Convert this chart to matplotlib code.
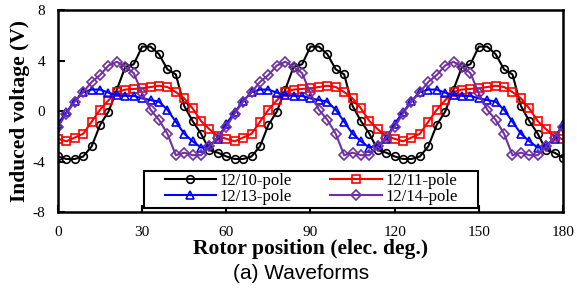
import numpy as np
import matplotlib
matplotlib.use("Agg")
import matplotlib.pyplot as plt
from matplotlib.patches import Rectangle

plt.rcParams['font.family'] = 'Liberation Serif'
plt.rcParams['axes.unicode_minus'] = False

# rotor position, elec. deg.
pos = np.arange(0, 181, 3)

v_10 = [-3.6, -3.8, -3.8, -3.6, -2.8, -1.1, -0.05, 1.7, 3.5, 3.7, 5.1, 5.1, 4.5, 3.3, 2.9, 0.4, -0.8, -1.8, -3.1, -3.3,
        -3.6, -3.8, -3.8, -3.6, -2.8, -1.1, -0.05, 1.7, 3.5, 3.7, 5.1, 5.1, 4.5, 3.3, 2.9, 0.4, -0.8, -1.8, -3.1, -3.3,
        -3.6, -3.8, -3.8, -3.6, -2.8, -1.1, -0.05, 1.7, 3.5, 3.7, 5.1, 5.1, 4.5, 3.3, 2.9, 0.4, -0.8, -1.8, -3.1, -3.3,
        -3.7]
v_11 = [-2.2, -2.4, -2.1, -1.8, -0.85, 0.1, 0.85, 1.5, 1.7, 1.75, 1.8, 1.9, 2.0, 1.9, 1.5, 1.0, 0.2, -0.8, -1.45, -2.0,
        -2.2, -2.4, -2.1, -1.8, -0.85, 0.1, 0.85, 1.5, 1.7, 1.75, 1.8, 1.9, 2.0, 1.9, 1.5, 1.0, 0.2, -0.8, -1.45, -2.0,
        -2.2, -2.4, -2.1, -1.8, -0.85, 0.1, 0.85, 1.5, 1.7, 1.75, 1.8, 1.9, 2.0, 1.9, 1.5, 1.0, 0.2, -0.8, -1.45, -2.0,
        -2.25]
v_13 = [-1.0, -0.1, 0.8, 1.5, 1.7, 1.7, 1.45, 1.25, 1.2, 1.2, 1.0, 0.87, 0.74, 0.1, -0.85, -1.8, -2.4, -2.9, -2.7, -2.2,
        -1.0, -0.1, 0.8, 1.5, 1.7, 1.7, 1.45, 1.25, 1.2, 1.2, 1.0, 0.87, 0.74, 0.1, -0.85, -1.8, -2.4, -2.9, -2.7, -2.2,
        -1.0, -0.1, 0.8, 1.5, 1.7, 1.7, 1.45, 1.25, 1.2, 1.2, 1.0, 0.87, 0.74, 0.1, -0.85, -1.8, -2.4, -2.9, -2.7, -2.2,
        -1.0]
v_14 = [-1.25, -0.2, 0.75, 1.5, 2.3, 2.85, 3.6, 3.9, 3.5, 3.0, 1.4, 0.1, -0.7, -1.8, -3.5, -3.3, -3.5, -3.5, -2.8, -2.1,
        -1.25, -0.2, 0.75, 1.5, 2.3, 2.85, 3.6, 3.9, 3.5, 3.0, 1.4, 0.1, -0.7, -1.8, -3.5, -3.3, -3.5, -3.5, -2.8, -2.1,
        -1.25, -0.2, 0.75, 1.5, 2.3, 2.85, 3.6, 3.9, 3.5, 3.0, 1.4, 0.1, -0.7, -1.8, -3.5, -3.3, -3.5, -3.5, -2.8, -2.1,
        -1.25]

fig = plt.figure(figsize=(5.77, 2.89), dpi=100)
ax = fig.add_axes([0.1005, 0.2664, 0.8752, 0.699])

mk = dict(markerfacecolor='none', markersize=5.5, markeredgewidth=1.2, linewidth=1.5)
l10, = ax.plot(pos, v_10, color='black', marker='o', label='12/10-pole', **mk)
l11, = ax.plot(pos, v_11, color='#FF0000', marker='s', label='12/11-pole', **mk)
l13, = ax.plot(pos, v_13, color='#0000FF', marker='^', label='12/13-pole', **mk)
l14, = ax.plot(pos, v_14, color='#7030A0', marker='D', label='12/14-pole',
               markerfacecolor='none', markersize=5, markeredgewidth=1.2, linewidth=1.5)

ax.set_xlim(0, 180)
ax.set_ylim(-8, 8)
ax.set_xticks(range(0, 181, 30))
ax.set_yticks([-8, -4, 0, 4, 8])
ax.tick_params(direction='in', length=5, width=1.5, labelsize=11, top=False, right=False)
ax.tick_params(axis='x', pad=10)
ax.tick_params(axis='y', pad=9)
for s in ax.spines.values():
    s.set_linewidth(1.8)

ax.set_xlabel('Rotor position (elec. deg.)', fontsize=15.5, fontweight='bold', labelpad=0)
ax.set_ylabel('Induced voltage (V)', fontsize=15.5, fontweight='bold', labelpad=2)

# legend box
box = (0.170, 0.022, 0.662, 0.182)
ax.add_patch(Rectangle(box[:2], box[2], box[3], transform=ax.transAxes,
                       facecolor='white', edgecolor='black', linewidth=1.5, zorder=3))
leg = ax.legend(handles=[l10, l13, l11, l14], ncol=2, loc='center',
                bbox_to_anchor=(box[0] + box[2] / 2, box[1] + box[3] / 2),
                fontsize=12, frameon=False, handlelength=3.1, handletextpad=0.2,
                columnspacing=2.3, borderpad=0, labelspacing=0.0, borderaxespad=0)
leg.set_zorder(4)

fig.text(0.522, 0.035, '(a) Waveforms', fontsize=15, family='Liberation Sans', ha='center')

fig.savefig('out.png', dpi=100)
